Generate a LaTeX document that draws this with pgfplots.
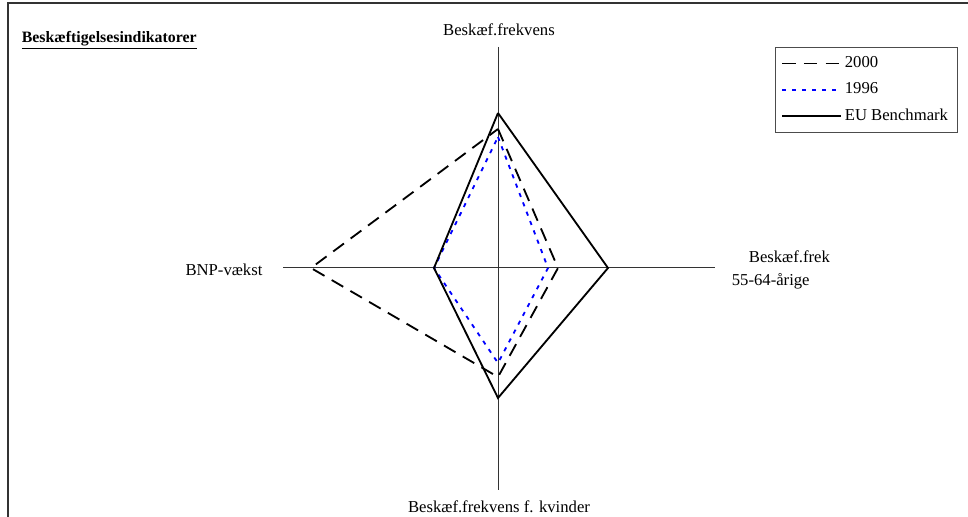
\documentclass[border=0pt]{standalone}
\usepackage{fontspec}
\setmainfont{Liberation Serif}
\usepackage{pgfplots}
\pgfplotsset{compat=1.18}
\definecolor{dblue}{RGB}{0,0,255}
\begin{document}
\fontsize{10}{12}\selectfont
\begin{tikzpicture}
\begin{axis}[
  width=580.8pt, height=310.2pt, scale only axis,
  xmin=-498, xmax=470, ymin=-249, ymax=268,
  axis lines=none, clip=false,
  legend style={at={(axis cs:277,221)}, anchor=north west, draw=black!70, line width=0.6pt,
    font=\fontsize{10}{12}\selectfont, row sep=3.6pt, inner xsep=3.5pt, inner ysep=3.5pt},
  legend cell align=left,
  legend image code/.code={\draw[#1] (0pt,0pt) -- (35pt,0pt);},
]
% frame
\draw[black!80, line width=0.9pt] (axis cs:-490,-249) -- (axis cs:-490,265) -- (axis cs:470,265);
% radar axes
\addplot[black!80, line width=0.6pt, forget plot] coordinates {(0,221) (0,-222)};
\addplot[black!80, line width=0.6pt, forget plot] coordinates {(-215,0) (217,0)};
% series
\addplot[black, line width=1.1pt, dash pattern=on 8pt off 5pt] coordinates {(0,139) (60,0) (0,-109) (-187,0) (0,139)};
\addlegendentry{2000}
\addplot[dblue, line width=1.1pt, dash pattern=on 2.5pt off 3.5pt] coordinates {(0,131) (50,0) (0,-95) (-64,0) (0,131)};
\addlegendentry{1996}
\addplot[black, line width=1.1pt] coordinates {(0,155) (110,0) (0,-130) (-64,0) (0,155)};
\addlegendentry{EU Benchmark}
% labels
\node[anchor=west, font=\fontsize{9.5}{11}\selectfont\bfseries] at (axis cs:-482,228) {\underline{Beskæftigelsesindikatorer}};
\node at (axis cs:1,238) {Beskæf.frekvens};
\node at (axis cs:-274,-2) {BNP-vækst};
\node[anchor=west] at (axis cs:245,11) {Beskæf.frek};
\node[anchor=west] at (axis cs:228,-13) {55-64-årige};
\node at (axis cs:1,-239) {Beskæf.frekvens f. kvinder};
\end{axis}
\pgfresetboundingbox
\useasboundingbox (current axis.south west) rectangle (current axis.north east);
\end{tikzpicture}
\end{document}
